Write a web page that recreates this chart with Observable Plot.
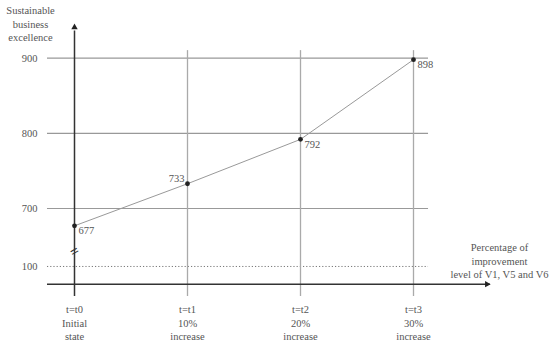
<!DOCTYPE html>
<html><head><meta charset="utf-8">
<script src="https://cdn.jsdelivr.net/npm/d3@7"></script>
<script src="https://cdn.jsdelivr.net/npm/@observablehq/plot@0.6"></script>
<style>body{margin:0;background:#fff}</style>
</head><body><div id="chart"></div>
<script>
// ---- data ----
const stageLabels = ["t=t0\nInitial\nstate", "t=t1\n10%\nincrease", "t=t2\n20%\nincrease", "t=t3\n30%\nincrease"];
const stages = [0, 1, 2, 3];
const excellence = [677, 733, 792, 898];
const yTicks = [100, 700, 800, 900];
const yTitle = "Sustainable\nbusiness\nexcellence";
const xTitle = "Percentage of\nimprovement\nlevel of V1, V5 and V6";

const points = stages.map((s, i) => ({stage: s, value: excellence[i], label: String(excellence[i]), tick: stageLabels[i]}));

// broken axis: values below 100 are compressed, the gap 100..623 collapses
const brk = v => v >= 623 ? v : v >= 100 ? 623 : 623 - (100 - v) * 0.235;

// axis extents (in data units)
const xLeft = -0.239, gridRight = 3.133, axisRight = 3.68, xArrow = 3.65;
const yBottom = -70, yOrigin = 0, yGridTop = 910, yAxisTop = 936, yArrow = 941, yBreak = 643, yTop = 970;

const chart = Plot.plot({
  width: 550,
  height: 342,
  marginLeft: 47,
  marginRight: 60,
  marginTop: 0,
  marginBottom: 46,
  style: {fontFamily: "Liberation Serif", fontSize: "10.5px", color: "#555", background: "#fff"},
  x: {domain: [0, 3], range: [74, 413], axis: null},
  y: {transform: brk, domain: [brk(yBottom), brk(yTop)], range: [296, 5], axis: null},
  marks: [
    // horizontal gridlines
    Plot.ruleY(yTicks.filter(d => d !== 100), {y: d => d, x1: xLeft, x2: gridRight, stroke: "#999", strokeWidth: 1.1}),
    Plot.ruleY(yTicks.filter(d => d === 100), {y: d => d, x1: xLeft, x2: gridRight, stroke: "#777", strokeWidth: 1, strokeDasharray: "1.2,2"}),
    // vertical gridlines
    Plot.ruleX(stages.slice(1), {x: d => d, y1: yGridTop, y2: yBottom, stroke: "#aaa", strokeWidth: 1.3}),
    // y axis with arrow
    Plot.ruleX([0], {x: d => d, y1: yBottom, y2: yAxisTop, stroke: "#333", strokeWidth: 1.5}),
    Plot.dot([yArrow], {x: 0, y: d => d, symbol: "triangle", r: 2.4, fill: "#222", stroke: null}),
    Plot.text([yBreak], {x: 0, y: d => d, text: () => "=", rotate: -30, fontSize: 15, fontWeight: "bold", fill: "#333"}),
    // x axis with arrow
    Plot.ruleY([yOrigin], {y: d => d, x1: xLeft, x2: axisRight, stroke: "#333", strokeWidth: 1.5}),
    Plot.dot([xArrow], {x: d => d, y: yOrigin, symbol: "triangle", rotate: 90, r: 2.4, fill: "#222", stroke: null}),
    // y tick labels
    Plot.axisY(yTicks, {tickSize: 0, tickPadding: 10, label: null, fill: "#555"}),
    // x tick labels
    Plot.text(points, {x: "stage", text: "tick", frameAnchor: "bottom", textAnchor: "middle", lineAnchor: "top", dy: 7, lineHeight: 1.29, fill: "#555"}),
    // data line and points
    Plot.line(points, {x: "stage", y: "value", stroke: "#999", strokeWidth: 1}),
    Plot.dot(points, {x: "stage", y: "value", r: 2.4, fill: "#222", stroke: null}),
    Plot.text(points.filter(d => d.stage !== 1), {x: "stage", y: "value", text: "label", textAnchor: "start", dx: 4, dy: 5, fill: "#555"}),
    Plot.text(points.filter(d => d.stage === 1), {x: "stage", y: "value", text: "label", textAnchor: "end", dx: -3, dy: -5, fill: "#555"}),
    // axis titles
    Plot.text([yTitle], {text: d => d, frameAnchor: "top-left", textAnchor: "middle", dx: -17, dy: 23, lineAnchor: "middle", lineHeight: 1.29, fill: "#555"}),
    Plot.text([xTitle], {text: d => d, frameAnchor: "bottom-right", textAnchor: "middle", dx: 9, dy: -36, lineAnchor: "middle", lineHeight: 1.29, fill: "#555"})
  ]
});
document.getElementById("chart").append(chart);
</script>
</body></html>
